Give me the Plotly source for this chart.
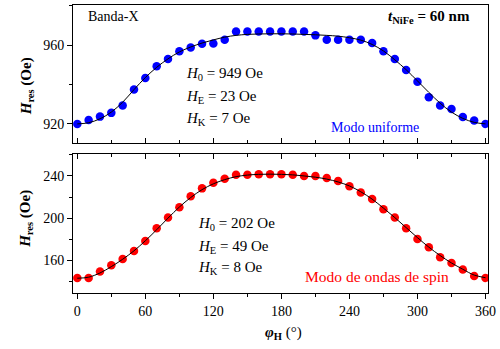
import plotly.graph_objects as go

# ---------------- data ----------------
phi = list(range(0, 361, 10))

h_uniform = [920.0, 922.0, 923.7, 925.6, 929.3, 937.4, 943.3, 949.2, 952.9, 956.8,
             958.8, 960.7, 960.8, 962.7, 966.9, 966.9, 966.9, 966.9, 966.9, 966.9,
             966.9, 964.9, 962.7, 962.7, 962.7, 962.7, 961.0, 956.8, 952.9, 947.3,
             941.4, 933.5, 929.3, 927.6, 923.5, 921.7, 920.0]
fit_uniform = [920.0, 920.6, 922.6, 926.0, 931.0, 937.4, 943.5, 948.7, 953.0, 956.5,
               959.0, 961.0, 962.6, 964.0, 964.9, 965.4, 965.6, 965.7, 965.7, 965.6,
               965.4, 965.2, 964.9, 964.5, 963.7, 962.5, 960.3, 957.0, 952.5, 947.5,
               941.8, 936.0, 930.5, 926.0, 922.8, 920.8, 920.0]

h_spin = [143.3, 143.3, 149.3, 155.3, 161.3, 168.9, 178.4, 190.3, 200.5, 210.3,
          220.7, 228.2, 233.6, 237.4, 241.2, 241.2, 241.5, 241.5, 241.5, 241.2,
          240.0, 240.0, 238.1, 235.3, 230.2, 224.2, 218.2, 208.3, 200.5, 190.3,
          180.3, 172.3, 162.8, 157.5, 151.2, 145.2, 143.3]
fit_spin = [143.0, 144.0, 148.0, 154.0, 161.0, 169.0, 178.5, 189.0, 200.0, 210.5,
            219.5, 227.0, 232.5, 236.5, 239.3, 240.8, 241.5, 241.7, 241.5, 241.0,
            240.0, 238.8, 237.0, 234.3, 230.5, 225.0, 218.0, 209.5, 200.5, 191.0,
            181.5, 172.5, 164.5, 157.5, 151.5, 146.0, 143.5]

x_ticks = [0, 60, 120, 180, 240, 300, 360]
y_ticks_top = [920, 960]
y_ticks_bottom = [160, 200, 240]

params_top = ["<i>H</i><sub>0</sub> = 949 Oe", "<i>H</i><sub>E</sub> = 23 Oe", "<i>H</i><sub>K</sub> = 7 Oe"]
params_bottom = ["<i>H</i><sub>0</sub> = 202 Oe", "<i>H</i><sub>E</sub> = 49 Oe", "<i>H</i><sub>K</sub> = 8 Oe"]

# ---------------- styling ----------------
SERIF = "Liberation Serif, Times New Roman, serif"
BLUE = "#0000ff"
RED = "#ff0000"
XR = [-3.8, 362.2]

fig = go.Figure()

fig.add_trace(go.Scatter(x=phi, y=h_uniform, mode="markers", xaxis="x", yaxis="y",
                         marker=dict(color=BLUE, size=8.5), showlegend=False))
fig.add_trace(go.Scatter(x=phi, y=fit_uniform, mode="lines", xaxis="x", yaxis="y",
                         line=dict(color="black", width=1, shape="spline"), showlegend=False))
fig.add_trace(go.Scatter(x=phi, y=h_spin, mode="markers", xaxis="x2", yaxis="y2",
                         marker=dict(color=RED, size=8.5), showlegend=False))
fig.add_trace(go.Scatter(x=phi, y=fit_spin, mode="lines", xaxis="x2", yaxis="y2",
                         line=dict(color="black", width=1, shape="spline"), showlegend=False))
# empty trace to carry the top tick axis of the lower panel
fig.add_trace(go.Scatter(x=[], y=[], xaxis="x3", yaxis="y2", showlegend=False, hoverinfo="skip"))

tickfont = dict(family=SERIF, size=14, color="black")
common_x = dict(range=XR, tickvals=x_ticks, showgrid=False, zeroline=False,
                linecolor="black", linewidth=1, tickcolor="black", tickwidth=1, ticklen=5)

fig.update_layout(
    width=500, height=349,
    margin=dict(l=73, r=7, t=4, b=56),
    paper_bgcolor="white", plot_bgcolor="white",
    font=dict(family=SERIF, color="black"),
    xaxis=dict(**common_x, anchor="y", domain=[0, 1], ticks="inside", showticklabels=False,
               showline=True, mirror=True,
               minor=dict(dtick=30, tick0=0, ticks="inside", ticklen=3, tickcolor="black")),
    yaxis=dict(domain=[0.520, 1], range=[910.2, 980.3], tickvals=y_ticks_top, anchor="x",
               ticks="outside", ticklen=5, tickcolor="black", showgrid=False, zeroline=False,
               showline=True, mirror=True, linecolor="black", linewidth=1,
               tickfont=tickfont, tickprefix="<b>", ticksuffix="</b>",
               minor=dict(dtick=20, tick0=920, ticks="outside", ticklen=3, tickcolor="black")),
    xaxis2=dict(**common_x, anchor="y2", domain=[0, 1], ticks="outside",
                showline=True, mirror=True, tickfont=tickfont, ticklabeloverflow="allow",
                tickprefix="<b>", ticksuffix="</b>",
                minor=dict(dtick=30, tick0=0, ticks="outside", ticklen=3, tickcolor="black")),
    xaxis3=dict(**common_x, anchor="y2", overlaying="x2", side="top", ticks="inside",
                showticklabels=False, showline=False,
                minor=dict(dtick=30, tick0=0, ticks="inside", ticklen=3, tickcolor="black")),
    yaxis2=dict(domain=[0, 0.4834], range=[129, 261], tickvals=y_ticks_bottom, anchor="x2",
                ticks="outside", ticklen=5, tickcolor="black", showgrid=False, zeroline=False,
                showline=True, mirror=True, linecolor="black", linewidth=1,
                tickfont=tickfont, tickprefix="<b>", ticksuffix="</b>",
                minor=dict(dtick=20, tick0=140, ticks="outside", ticklen=3, tickcolor="black")),
)

ann = []
# y-axis titles
ann.append(dict(text="<b><i>H</i><sub>res</sub> (Oe)</b>", xref="paper", yref="paper",
                x=(26 - 73) / 420, y=1 - (86 - 4) / 289, textangle=-90, showarrow=False,
                xanchor="center", yanchor="middle", font=dict(family=SERIF, size=15)))
ann.append(dict(text="<b><i>H</i><sub>res</sub> (Oe)</b>", xref="paper", yref="paper",
                x=(26 - 73) / 420, y=1 - (219 - 4) / 289, textangle=-90, showarrow=False,
                xanchor="center", yanchor="middle", font=dict(family=SERIF, size=15)))
# x-axis title
ann.append(dict(text="<b><i>φ</i></b><sub><b>H</b></sub> (°)", xref="paper", yref="paper",
                x=(286 - 73) / 420, y=1 - (333 - 4) / 289, showarrow=False,
                xanchor="center", yanchor="middle", font=dict(family=SERIF, size=15)))
# top panel texts
ann.append(dict(text="Banda-X", xref="x", yref="y", x=7.6, y=974.3, showarrow=False,
                xanchor="left", yanchor="middle", font=dict(family=SERIF, size=14)))
ann.append(dict(text="<b><i>t</i><sub>NiFe</sub> = 60 nm</b>", xref="x", yref="y", x=348.2, y=974.3,
                showarrow=False, xanchor="right", yanchor="middle", font=dict(family=SERIF, size=15)))
for txt, yy in zip(params_top, [945.5, 933.8, 922.7]):
    ann.append(dict(text=txt, xref="x", yref="y", x=93.8, y=yy, showarrow=False,
                    xanchor="left", yanchor="middle", font=dict(family=SERIF, size=15)))
ann.append(dict(text="Modo uniforme", xref="x", yref="y", x=302.7, y=918.1, showarrow=False,
                xanchor="right", yanchor="middle", font=dict(family=SERIF, size=14, color=BLUE)))
# bottom panel texts
for txt, yy in zip(params_bottom, [194.5, 173.0, 153.1]):
    ann.append(dict(text=txt, xref="x2", yref="y2", x=104.3, y=yy, showarrow=False,
                    xanchor="left", yanchor="middle", font=dict(family=SERIF, size=15)))
ann.append(dict(text="Modo de ondas de spin", xref="x2", yref="y2", x=329.5, y=144.8,
                showarrow=False, xanchor="right", yanchor="middle",
                font=dict(family=SERIF, size=15.5, color=RED)))

fig.update_layout(annotations=ann)

fig.write_html("out.html", config={"displayModeBar": False},
               post_script="document.body.style.margin='0';")
